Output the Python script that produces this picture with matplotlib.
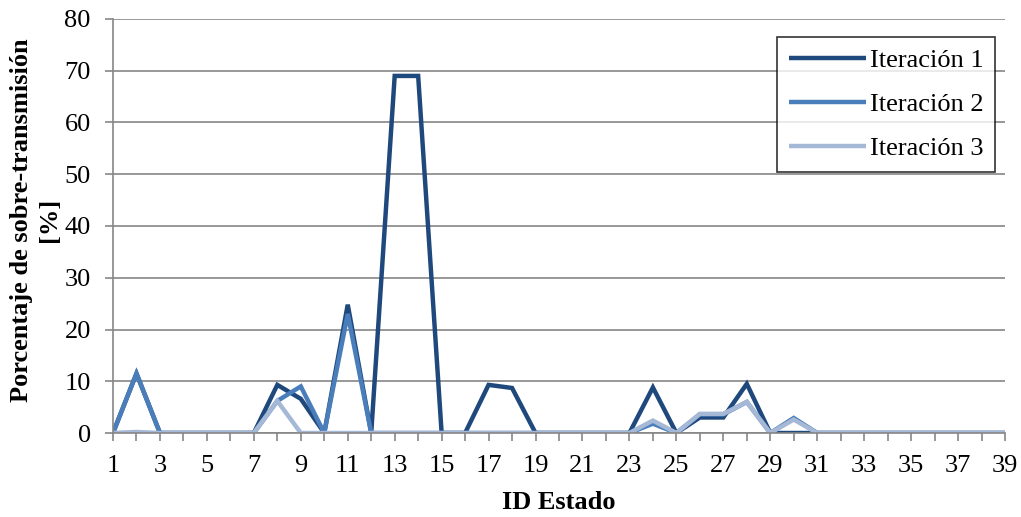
import matplotlib.pyplot as plt
import numpy as np

# ID de estado 1..39
estados = list(range(1, 40))

iter1 = [0, 11.5, 0, 0, 0, 0, 0, 9.3, 6.6, 0, 24.8, 0, 69, 69, 0, 0, 9.3, 8.7, 0, 0,
         0, 0, 0, 8.8, 0, 3.0, 3.0, 9.5, 0, 0, 0, 0, 0, 0, 0, 0, 0, 0, 0]
iter2 = [0, 11.5, 0, 0, 0, 0, 0, 6.2, 9.0, 0, 23.0, 0, 0, 0, 0, 0, 0, 0, 0, 0,
         0, 0, 0, 1.8, 0, 3.6, 3.6, 6.0, 0, 2.9, 0, 0, 0, 0, 0, 0, 0, 0, 0]
iter3 = [0, 0.2, 0, 0, 0, 0, 0, 6.2, 0, 0, 0, 0, 0, 0, 0, 0, 0, 0, 0, 0,
         0, 0, 0, 2.4, 0, 3.7, 3.7, 6.0, 0, 2.6, 0, 0, 0, 0, 0, 0, 0, 0, 0]

series = [("Iteración 1", iter1, "#1F497D"),
          ("Iteración 2", iter2, "#4A7EBB"),
          ("Iteración 3", iter3, "#A5B8D6")]

plt.rcParams['font.family'] = ['Liberation Serif', 'DejaVu Serif']
fs = 19

fig = plt.figure(figsize=(10.21, 5.17), dpi=100)
ax = fig.add_axes([113/1021, 1 - 433/517, (1005-113)/1021, (433-19)/517])

for name, vals, col in series:
    ax.plot(estados, vals, color=col, lw=3.2, label=name, solid_joinstyle='miter',
            solid_capstyle='butt')

ax.set_xlim(1, 39)
ax.set_ylim(0, 80)
ax.set_xticks(estados)
ax.set_xticklabels([str(e) if e % 2 == 1 else "" for e in estados])
ax.set_yticks(np.arange(0, 81, 10))
ax.tick_params(axis='both', labelsize=fs, colors='#868686', labelcolor='black',
               length=6, width=1.2, direction='out')
ax.tick_params(axis='x', pad=10)
ax.tick_params(axis='y', pad=10)
ax.yaxis.grid(True, color='#868686', lw=1.2)
ax.set_axisbelow(True)
for s in ['top', 'right']:
    ax.spines[s].set_visible(False)
for s in ['left', 'bottom']:
    ax.spines[s].set_color('#868686')
    ax.spines[s].set_linewidth(1.2)

ax.set_xlabel("ID Estado", fontsize=fs, fontweight='bold', labelpad=10)
fig.text(22/1021, 1 - 220/517, "Porcentaje de sobre-transmisión", rotation=90,
         ha='center', va='center', fontsize=fs, fontweight='bold')
fig.text(49/1021, 1 - 220/517, "[%]", rotation=90,
         ha='center', va='center', fontsize=fs, fontweight='bold')

leg = ax.legend(loc='upper right', bbox_to_anchor=(995/1021, 1 - 37/517),
                bbox_transform=fig.transFigure, fontsize=fs, frameon=True,
                fancybox=False, edgecolor='black', handlelength=2.9,
                handletextpad=0.15, labelspacing=0.78, borderpad=0.45,
                borderaxespad=0)
leg.get_frame().set_linewidth(1.2)

fig.savefig("out.png", dpi=100)
